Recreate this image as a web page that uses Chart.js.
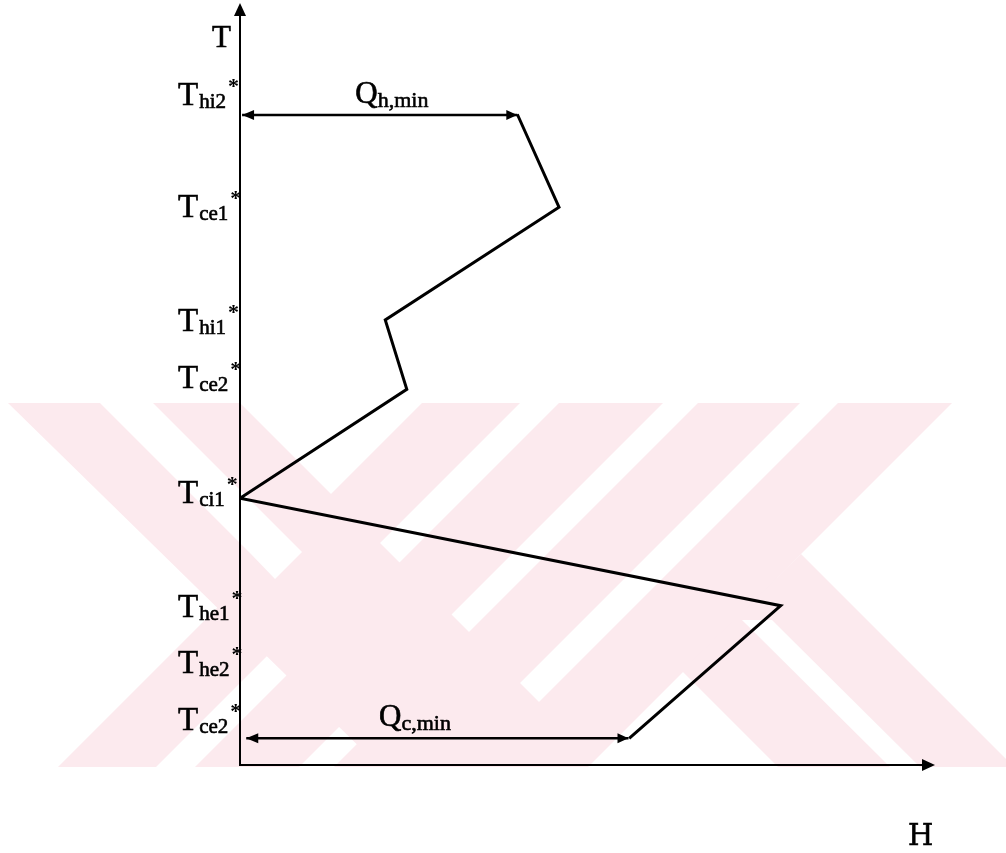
<!DOCTYPE html>
<html>
<head>
<meta charset="utf-8">
<style>
  html, body { margin: 0; padding: 0; background: #ffffff; }
  #wrap { width: 1006px; height: 853px; position: relative; }
</style>
<script src="https://cdn.jsdelivr.net/npm/chart.js@4.4.1/dist/chart.umd.min.js"></script>
</head>
<body>
<div id="wrap"><canvas id="chart" width="1006" height="853"></canvas></div>
<script>
// Problem-table composite curve: enthalpy H (x) against shifted temperature T (y)
const curveH = [39.9, 45.9, 20.9, 24.0, 0.0, 77.8, 56.0];
const curveT = [85.4, 73.2, 58.4, 49.3, 35.0, 20.9, 3.5];

// Minimum hot / cold utility spans
const qHotH = [0.3, 39.9];
const qHotT = 85.3;
const qColdH = [0.9, 55.9];
const qColdT = 3.5;

// Shifted temperature levels marked on the T axis
const levelMain = ['T', 'T', 'T', 'T', 'T', 'T', 'T', 'T'];
const levelSub = ['hi2', 'ce1', 'hi1', 'ce2', 'ci1', 'he1', 'he2', 'ce2'];
const levelT = [88.1, 73.4, 58.4, 50.9, 35.8, 20.9, 13.5, 6.0];

// Utility labels
const qLabels = [
  { main: 'Q', sub: 'h,min', H: 16.6, T: 85.3 },
  { main: 'Q', sub: 'c,min', H: 20.0, T: 3.5 }
];

const SERIF = '"Liberation Serif", "Times New Roman", serif';

// Pale background emblem behind the plot (canvas coordinates)
const emblem = {
  clip: [0, 403, 1006, 364],
  fill: 'rgb(252,234,238)',
  pink: [
    // Y: left arm "\" and right arm + stem "/"
    [[8, 403], [240, 403], [588, 751], [572, 767], [380, 767], [8, 403]],
    [[422, 403], [520, 403], [156, 767], [58, 767]],
    // slanted bands
    [[559, 403], [663, 403], [299, 767], [195, 767]],
    [[698, 403], [800, 403], [436, 767], [334, 767]],
    // K: upper arm and lower leg
    [[838, 403], [952, 403], [588, 767], [474, 767]],
    [[801, 554], [1014, 767], [778, 767], [682, 671]]
  ],
  white: [
    [[100, 403], [153, 403], [302, 552], [275, 579], [249, 552]],
    [[742, 620], [772, 620], [920, 767], [890, 767]]
  ]
};

const emblemPlugin = {
  id: 'emblem',
  beforeDraw(chart) {
    const ctx = chart.ctx;
    ctx.save();
    const c = emblem.clip;
    ctx.beginPath();
    ctx.rect(c[0], c[1], c[2], c[3]);
    ctx.clip();
    const poly = (pts, col) => {
      ctx.beginPath();
      pts.forEach((p, i) => i ? ctx.lineTo(p[0], p[1]) : ctx.moveTo(p[0], p[1]));
      ctx.closePath();
      ctx.fillStyle = col;
      ctx.fill();
    };
    emblem.pink.forEach(p => poly(p, emblem.fill));
    emblem.white.forEach(p => poly(p, '#ffffff'));
    ctx.restore();
  }
};

function arrowHead(ctx, x, y, dx, dy, len, half) {
  const n = Math.hypot(dx, dy);
  const ux = dx / n, uy = dy / n;
  ctx.beginPath();
  ctx.moveTo(x, y);
  ctx.lineTo(x - ux * len - uy * half, y - uy * len + ux * half);
  ctx.lineTo(x - ux * len + uy * half, y - uy * len - ux * half);
  ctx.closePath();
  ctx.fill();
}

// text drawn with a faint outline so the strokes read as heavy as printed type
function inkText(ctx, s, x, y) {
  ctx.fillText(s, x, y);
  ctx.strokeText(s, x, y);
}

const schematicPlugin = {
  id: 'schematic',
  afterDatasetsDraw(chart) {
    const ctx = chart.ctx;
    const xs = chart.scales.x, ys = chart.scales.y;
    const X = v => xs.getPixelForValue(v);
    const Y = v => ys.getPixelForValue(v);
    ctx.save();
    ctx.strokeStyle = '#000';
    ctx.fillStyle = '#000';

    // axes with arrow tips
    const x0 = X(xs.min), y0 = Y(ys.min), x1 = X(xs.max), y1 = Y(ys.max);
    ctx.lineWidth = 2;
    ctx.beginPath();
    ctx.moveTo(x0, y0 + 1);
    ctx.lineTo(x0, y1 + 6);
    ctx.moveTo(x0 - 1, y0);
    ctx.lineTo(x1 - 6, y0);
    ctx.stroke();
    arrowHead(ctx, x0, y1, 0, -1, 13, 6);
    arrowHead(ctx, x1, y0, 1, 0, 13, 6);

    // utility arrow heads
    arrowHead(ctx, X(qHotH[0]), Y(qHotT), -1, 0, 12, 5);
    arrowHead(ctx, X(qHotH[1]), Y(qHotT), 1, 0, 11, 5);
    arrowHead(ctx, X(qColdH[0]), Y(qColdT), -1, 0, 12, 5);
    arrowHead(ctx, X(qColdH[1]), Y(qColdT), 1, 0, 11, 5);

    ctx.lineWidth = 0.6;
    ctx.textBaseline = 'alphabetic';
    ctx.textAlign = 'left';

    // axis titles
    ctx.font = '31px ' + SERIF;
    inkText(ctx, 'T', x0 - 28, y1 + 44);
    ctx.font = '29px "DejaVu Serif", serif';
    inkText(ctx, 'H', x1 - 27, y0 + 80);

    // temperature level labels with subscripts and asterisks
    levelT.forEach((t, i) => {
      const yc = Y(t);
      const xl = x0 - 62;
      ctx.font = '33px ' + SERIF;
      inkText(ctx, levelMain[i], xl, yc + 11);
      const wT = ctx.measureText(levelMain[i]).width;
      ctx.font = '21px ' + SERIF;
      inkText(ctx, levelSub[i], xl + wT + 1, yc + 14);
      const wS = ctx.measureText(levelSub[i]).width;
      ctx.font = 'bold 22px ' + SERIF;
      ctx.fillText('*', xl + wT + wS + 3, yc - 1);
    });

    // utility labels
    qLabels.forEach(q => {
      const xl = X(q.H), yb = Y(q.T) - 8;
      ctx.font = '31px ' + SERIF;
      inkText(ctx, q.main, xl, yb - 4);
      const wQ = ctx.measureText(q.main).width;
      ctx.font = '22px ' + SERIF;
      inkText(ctx, q.sub, xl + wQ, yb);
    });
    ctx.restore();
  }
};

const toPoints = (hs, ts) => hs.map((h, i) => ({ x: h, y: Array.isArray(ts) ? ts[i] : ts }));

new Chart(document.getElementById('chart'), {
  type: 'scatter',
  data: {
    datasets: [
      {
        label: 'Grand composite curve',
        data: toPoints(curveH, curveT),
        showLine: true,
        borderColor: '#000',
        borderWidth: 3,
        pointRadius: 0,
        tension: 0,
        borderJoinStyle: 'miter'
      },
      {
        label: 'Qh,min',
        data: toPoints(qHotH, qHotT),
        showLine: true,
        borderColor: '#000',
        borderWidth: 2.5,
        pointRadius: 0
      },
      {
        label: 'Qc,min',
        data: toPoints(qColdH, qColdT),
        showLine: true,
        borderColor: '#000',
        borderWidth: 2.5,
        pointRadius: 0
      }
    ]
  },
  options: {
    responsive: false,
    animation: false,
    devicePixelRatio: 1,
    layout: { padding: { left: 240, right: 71, top: 3, bottom: 88 } },
    plugins: { legend: { display: false }, tooltip: { enabled: false } },
    scales: {
      x: { type: 'linear', min: 0, max: 100, display: false },
      y: { type: 'linear', min: 0, max: 100, display: false }
    }
  },
  plugins: [emblemPlugin, schematicPlugin]
});
</script>
</body>
</html>
